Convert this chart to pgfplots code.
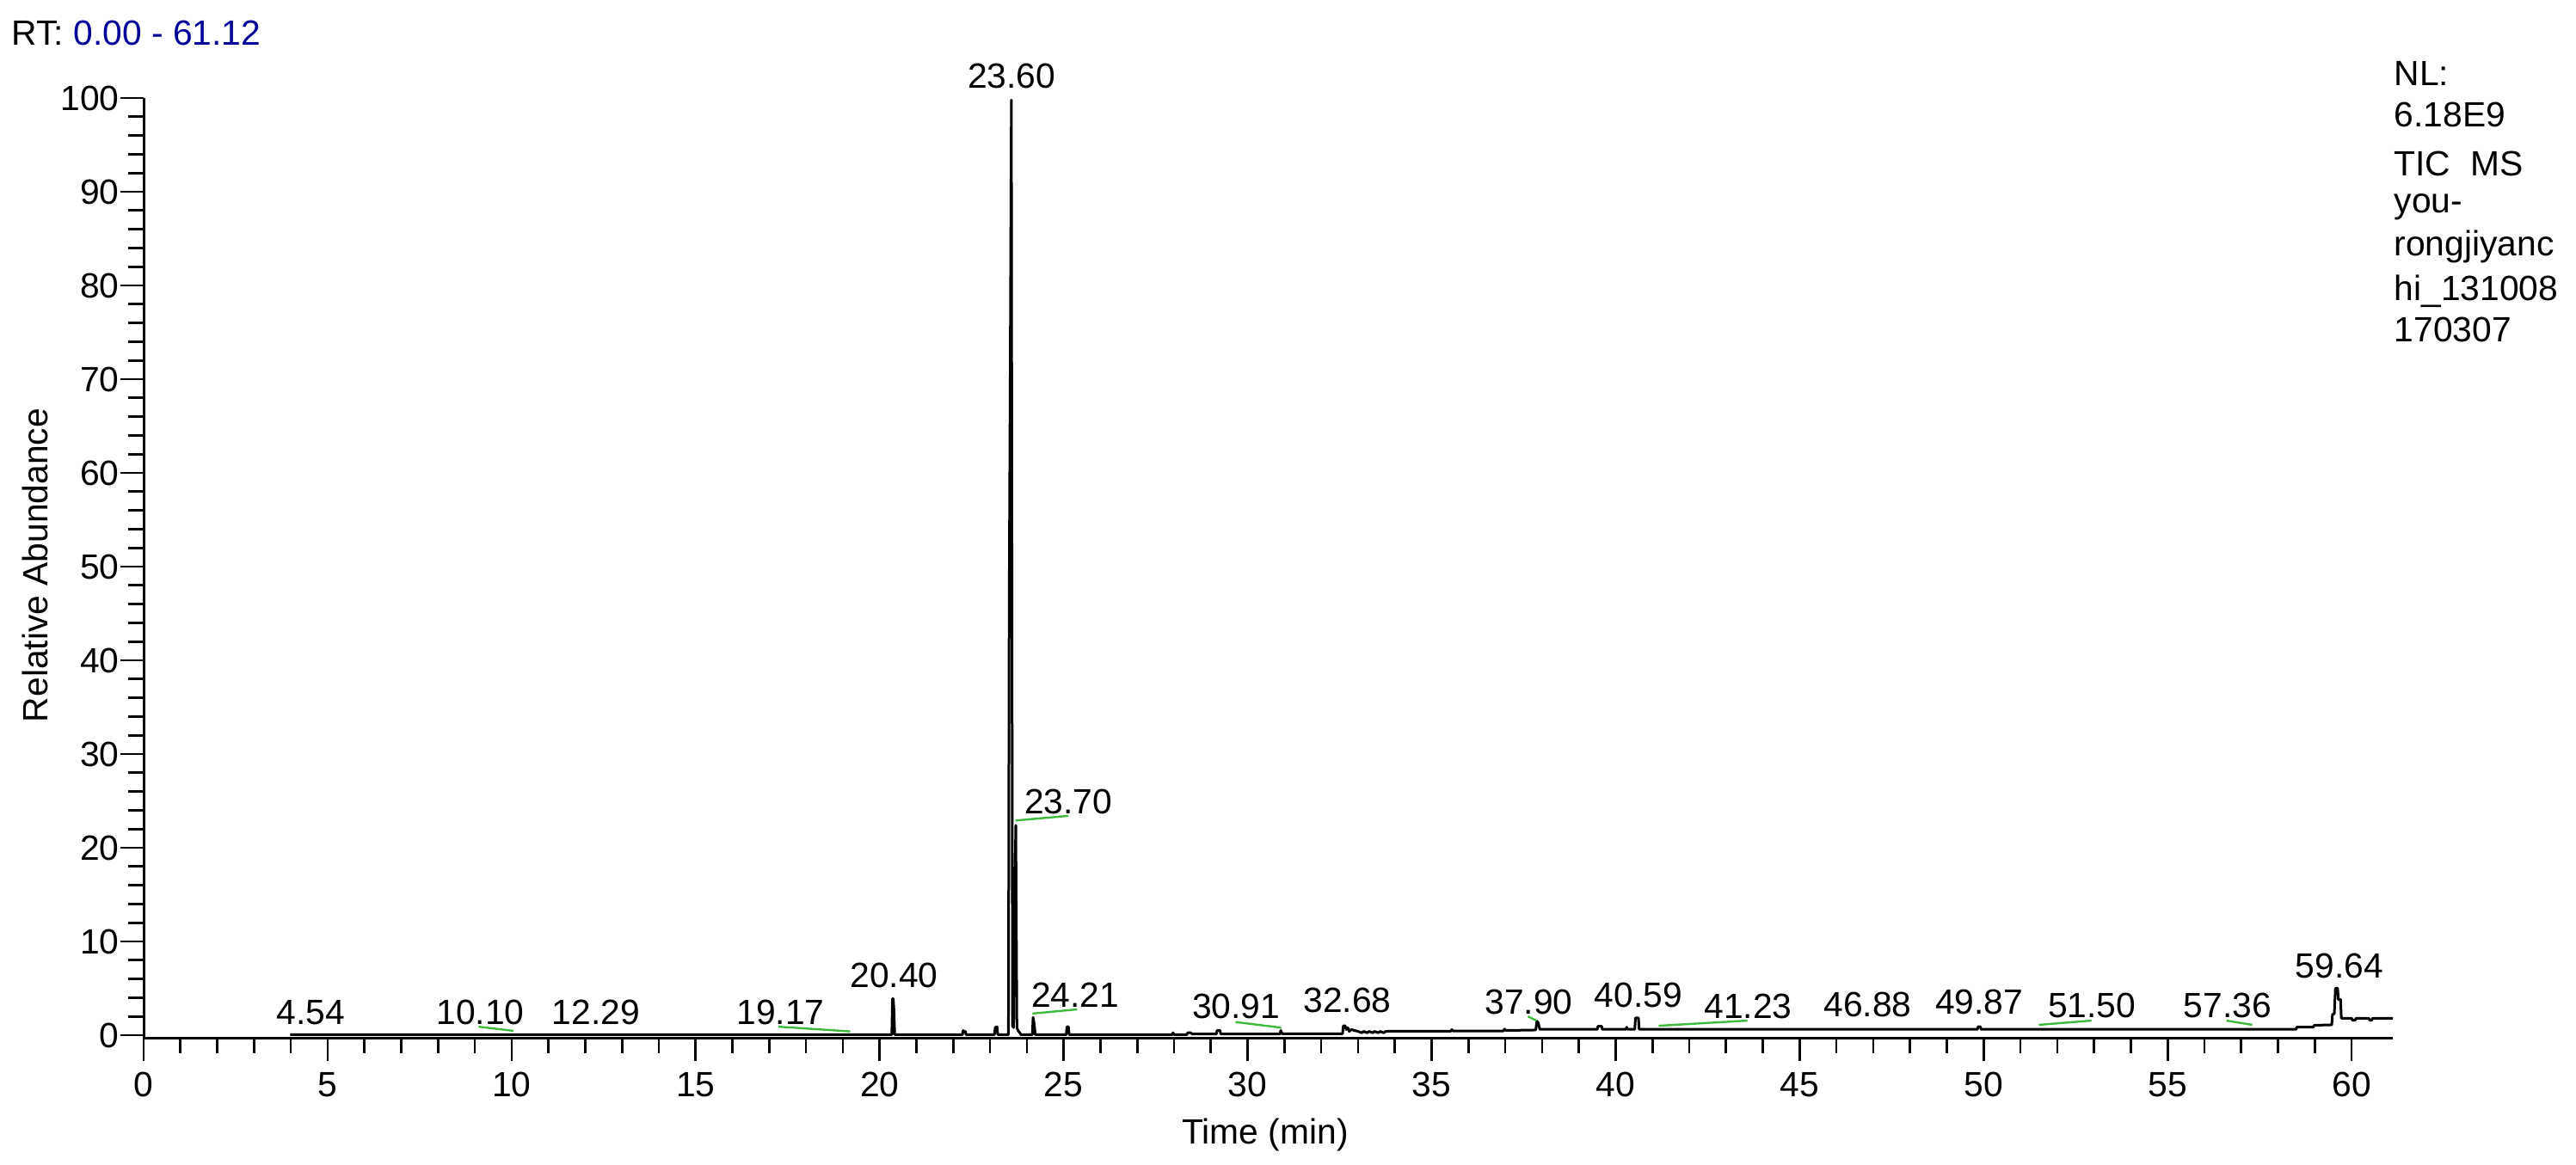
\documentclass[border=0pt]{standalone}
\usepackage{fontspec}
\setmainfont{Liberation Sans}
\usepackage{pgfplots}
\pgfplotsset{compat=1.18}
\newcommand\chartfont{\fontsize{13.6}{16.3}\selectfont}
\definecolor{rtblue}{rgb}{0,0,0.6}
\definecolor{intgreen}{rgb}{0.25,0.72,0.25}
\begin{document}
\begin{tikzpicture}[font=\chartfont]
\useasboundingbox (-55.667pt,-49pt) rectangle (942.667pt,402.333pt);
\begin{axis}[
  at={(0,0)}, anchor=south west,
  scale only axis, width=871.667pt, height=364.333pt,
  xmin=0, xmax=61.12, ymin=-0.28, ymax=100,
  axis x line=bottom, axis y line=left,
  axis line style={line width=1pt, -},
  clip=false,
  xtick={0,5,...,60}, ytick={0,10,...,100},
  minor x tick num=4, minor y tick num=4,
  tick align=outside,
  major tick length=9pt, minor tick length=6pt,
  every tick/.style={black, line width=0.9pt},
  /pgf/number format/assume math mode=true,
  xticklabel style={anchor=base, yshift=-13.67pt, inner sep=0pt},
  yticklabel style={anchor=east, xshift=-0.33pt, inner sep=0pt},
  tick label style={font=\chartfont},
]
\addplot[black, line width=1pt, line join=round] coordinates {
(3.98,0.05) (20.33,0.05) (20.35,3.9) (20.37,3.9) (20.39,2.6) (20.41,0.05)
(22.25,0.05) (22.27,0.5) (22.30,0.3) (22.33,0.4) (22.35,0.05)
(23.12,0.05) (23.14,0.8) (23.19,0.9) (23.21,0.05)
(23.50,0.05) (23.52,46) (23.55,72.5) (23.58,99.8) (23.61,1.0) (23.64,0.8)
(23.67,15) (23.70,22.4) (23.73,0.8) (23.76,0.5) (23.80,0.3) (23.84,0.05)
(24.15,0.05) (24.17,1.9) (24.20,1.2) (24.23,0.05)
(25.07,0.05) (25.09,0.9) (25.13,0.9) (25.15,0.05)
(27.95,0.05) (27.97,0.25) (28.00,0.05) (28.35,0.05) (28.37,0.25) (28.45,0.25) (28.50,0.12)
(29.15,0.12) (29.17,0.5) (29.25,0.5) (29.27,0.12)
(30.88,0.12) (30.90,0.5) (30.94,0.15)
(32.58,0.15) (32.60,1.0) (32.65,1.0) (32.68,0.6) (32.72,0.8) (32.76,0.4) (32.82,0.6)
(32.90,0.5) (33.00,0.4) (33.10,0.25) (33.15,0.4) (33.25,0.25) (33.30,0.4) (33.40,0.25)
(33.45,0.4) (33.55,0.25) (33.60,0.4) (33.70,0.25) (33.75,0.4) (33.90,0.42)
(35.52,0.42) (35.55,0.6) (35.58,0.45) (36.95,0.45) (36.98,0.65) (37.02,0.5)
(37.83,0.55) (37.86,1.5) (37.90,1.3) (37.94,0.62)
(39.50,0.62) (39.52,0.95) (39.62,0.95) (39.64,0.62)
(40.28,0.62) (40.30,0.85) (40.33,0.62)
(40.52,0.62) (40.54,1.85) (40.62,1.85) (40.64,0.62)
(49.83,0.62) (49.85,0.9) (49.91,0.9) (49.93,0.62)
(58.49,0.62) (58.51,0.85) (58.96,0.85) (58.98,1.05) (59.46,1.1) (59.48,2.2) (59.53,2.3)
(59.56,5.0) (59.62,5.0) (59.64,3.8) (59.70,3.8) (59.72,1.8) (60.00,1.8) (60.02,1.6)
(60.10,1.6) (60.12,1.8) (60.47,1.8) (60.49,1.6) (60.55,1.6) (60.57,1.8) (61.12,1.8)
};
\addplot[intgreen, line width=0.8pt] coordinates {(9.10,0.9) (10.05,0.46)};
\addplot[intgreen, line width=0.8pt] coordinates {(17.25,0.9) (19.2,0.4)};
\addplot[intgreen, line width=0.8pt] coordinates {(23.69,22.9) (25.13,23.4)};
\addplot[intgreen, line width=0.8pt] coordinates {(24.15,2.3) (25.37,2.75)};
\addplot[intgreen, line width=0.8pt] coordinates {(29.67,1.4) (30.91,0.8)};
\addplot[intgreen, line width=0.8pt] coordinates {(37.62,2.0) (37.85,1.55)};
\addplot[intgreen, line width=0.8pt] coordinates {(41.17,1.0) (43.58,1.55)};
\addplot[intgreen, line width=0.8pt] coordinates {(51.5,1.1) (52.93,1.55)};
\addplot[intgreen, line width=0.8pt] coordinates {(56.6,1.55) (57.3,1.1)};
\begin{scope}[every node/.style={anchor=base, inner sep=0pt, font=\chartfont}]
\node at (axis cs:23.59,101.1) {23.60};
\node at (axis cs:25.13,23.6) {23.70};
\node at (axis cs:20.39,5.05) {20.40};
\node at (axis cs:4.54,1.1) {4.54};
\node at (axis cs:9.15,1.1) {10.10};
\node at (axis cs:12.29,1.1) {12.29};
\node at (axis cs:17.31,1.1) {19.17};
\node at (axis cs:25.32,2.94) {24.21};
\node at (axis cs:29.69,1.74) {30.91};
\node at (axis cs:32.71,2.4) {32.68};
\node at (axis cs:37.64,2.2) {37.90};
\node at (axis cs:40.62,2.94) {40.59};
\node at (axis cs:43.6,1.74) {41.23};
\node at (axis cs:46.85,2.0) {46.88};
\node at (axis cs:49.88,2.2) {49.87};
\node at (axis cs:52.94,1.84) {51.50};
\node at (axis cs:56.63,1.84) {57.36};
\node at (axis cs:59.67,6.06) {59.64};
\end{scope}
\end{axis}
\node[anchor=base west, inner sep=0pt] at (-51.33pt,384.67pt) {RT:\ \textcolor{rtblue}{0.00 - 61.12}};
\node[anchor=base, inner sep=0pt, rotate=90] at (-37.33pt,183.2pt) {Relative Abundance};
\node[anchor=base, inner sep=0pt] at (434.7pt,-41pt) {Time (min)};
\begin{scope}[every node/.style={anchor=base west, inner sep=0pt, font=\chartfont}]
\node at (872pt,369pt) {NL:};
\node at (872pt,353pt) {6.18E9};
\node at (872pt,334.33pt) {TIC\ \ MS};
\node at (872pt,319.67pt) {you-};
\node at (872pt,303pt) {rongjiyanc};
\node at (872pt,285.67pt) {hi\_131008};
\node at (872pt,269.67pt) {170307};
\end{scope}
\end{tikzpicture}
\end{document}
